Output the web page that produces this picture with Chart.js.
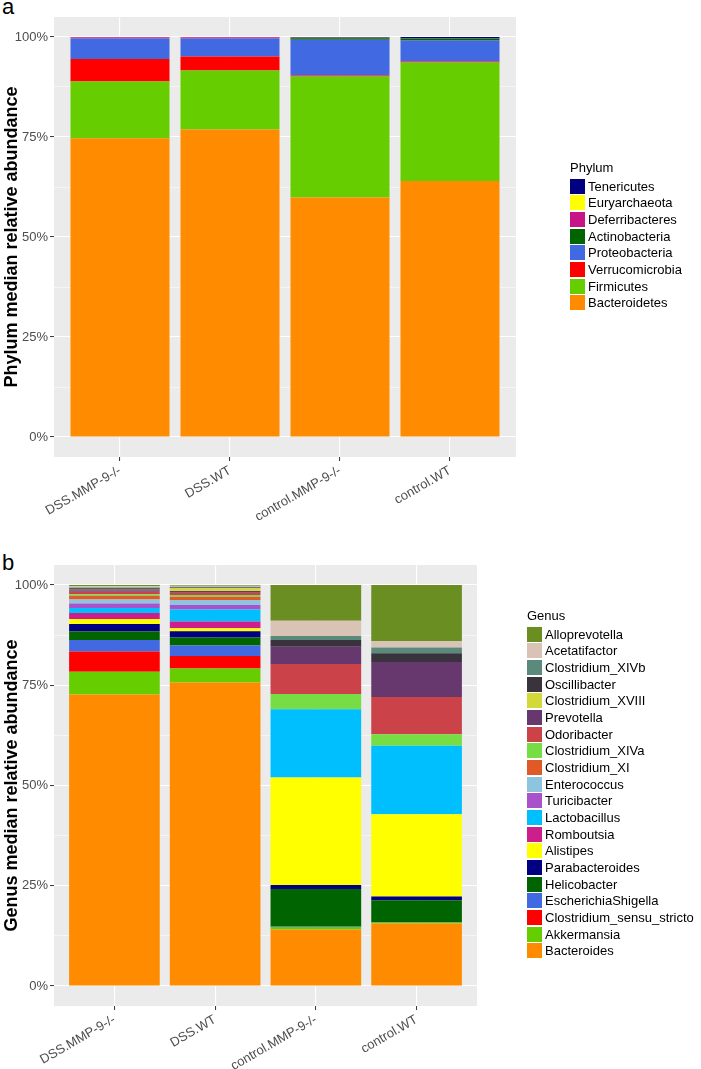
<!DOCTYPE html>
<html>
<head>
<meta charset="utf-8">
<script src="https://cdn.jsdelivr.net/npm/chart.js@4.4.1/dist/chart.umd.min.js"></script>
<style>
  body { margin: 0; background: #fff; font-family: "Liberation Sans", Arial, sans-serif; }
  #page { position: relative; width: 701px; height: 1069px; overflow: hidden; }
  canvas { position: absolute; left: 0; }
  .tag { position: absolute; left: 2px; font-size: 22px; line-height: 22px; color: #000; }
  .legend { position: absolute; font-size: 13px; color: #000; }
  .legend .ttl { height: 16px; line-height: 16px; margin-bottom: 2px; }
  .legend .row { height: 16.67px; display: flex; align-items: center; white-space: nowrap; }
  .legend .box { width: 15px; height: 15px; margin-right: 3px; flex: none; }
</style>
</head>
<body>
<div id="page">
  <div class="tag" style="top:-4px">a</div>
  <canvas id="phylumChart" width="701" height="540" style="top:0"></canvas>
  <div class="legend" id="phylumLegend" style="left:570px; top:160px"></div>

  <div class="tag" style="top:552px">b</div>
  <canvas id="genusChart" width="701" height="529" style="top:540px"></canvas>
  <div class="legend" id="genusLegend" style="left:527px; top:608px"></div>
</div>

<script>
// groups on the x axis
const groups = ["DSS.MMP-9-/-", "DSS.WT", "control.MMP-9-/-", "control.WT"];

// y axis ticks
const yGrid = [0, 12.5, 25, 37.5, 50, 62.5, 75, 87.5, 100];
const yTicks = [0, 25, 50, 75, 100];
const yTickLabels = ["0%", "25%", "50%", "75%", "100%"];

// ---- panel a : phylum (bottom of stack first) ----
const phyla = ["Bacteroidetes", "Firmicutes", "Verrucomicrobia", "Proteobacteria",
  "Actinobacteria", "Deferribacteres", "Euryarchaeota", "Tenericutes"];
const phylumColors = ["#FF8C00", "#66CD00", "#FF0000", "#4169E1",
  "#006400", "#C71585", "#FFFF00", "#000080"];
const phylumDssMmp9 = [74.7, 14.2, 5.6, 5.1, 0.05, 0.3, 0.02, 0.03];
const phylumDssWt = [76.9, 14.7, 3.5, 4.5, 0.05, 0.3, 0.02, 0.03];
const phylumCtrlMmp9 = [59.9, 30.2, 0.3, 8.9, 0.4, 0.05, 0.05, 0.2];
const phylumCtrlWt = [64.0, 29.6, 0.3, 5.2, 0.5, 0.1, 0.0, 0.3];

// ---- panel b : genus (bottom of stack first) ----
const genera = ["Bacteroides", "Akkermansia", "Clostridium_sensu_stricto", "EscherichiaShigella",
  "Helicobacter", "Parabacteroides", "Alistipes", "Romboutsia", "Lactobacillus", "Turicibacter",
  "Enterococcus", "Clostridium_XI", "Clostridium_XIVa", "Odoribacter", "Prevotella",
  "Clostridium_XVIII", "Oscillibacter", "Clostridium_XIVb", "Acetatifactor", "Alloprevotella"];
const genusColors = ["#FF8C00", "#66CD00", "#FF0000", "#4169E1",
  "#006400", "#000080", "#FFFF00", "#CD1F8B", "#00BFFF", "#A852CB",
  "#8EC4DE", "#E05A28", "#77DD44", "#CC4249", "#66386E",
  "#D4D93A", "#38333D", "#5A8A7C", "#D8C3B5", "#6B8E23"];
const genusDssMmp9 = [72.7, 5.7, 5.0, 2.9, 2.1, 1.9, 1.2, 1.5, 1.3, 1.1,
  1.0, 0.9, 0.4, 0.6, 0.4, 0.1, 0.4, 0.2, 0.3, 0.3];
const genusDssWt = [75.7, 3.5, 3.1, 2.6, 2.0, 1.6, 0.7, 1.7, 3.0, 1.1,
  1.3, 0.8, 0.4, 0.6, 0.4, 0.7, 0.2, 0.2, 0.2, 0.2];
const genusCtrlMmp9 = [14.1, 0.6, 0.0, 0.1, 9.4, 1.0, 26.8, 0.0, 17.0, 0.0,
  0.0, 0.0, 3.8, 7.5, 4.3, 0.0, 1.7, 1.0, 3.8, 8.9];
const genusCtrlWt = [15.6, 0.2, 0.0, 0.0, 5.6, 0.9, 20.5, 0.0, 17.1, 0.0,
  0.0, 0.0, 2.9, 9.3, 8.7, 0.0, 2.2, 1.4, 1.6, 14.0];


const FONT = "'Liberation Sans', Arial, sans-serif";

// grey ggplot panel behind the bars
const panelBg = {
  id: "panelBg",
  beforeDraw(chart) {
    const a = chart.chartArea;
    const ctx = chart.ctx;
    ctx.save();
    ctx.fillStyle = "#EBEBEB";
    ctx.fillRect(a.left, a.top, a.right - a.left, a.bottom - a.top);
    ctx.restore();
  }
};

function isMajor(v) {
  return yTicks.indexOf(v) !== -1;
}

function buildLegend(el, title, names, colors) {
  let html = '<div class="ttl">' + title + '</div>';
  for (let i = names.length - 1; i >= 0; i--) {
    html += '<div class="row"><span class="box" style="background:' + colors[i] + '"></span>' + names[i] + '</div>';
  }
  el.innerHTML = html;
}

function makeChart(canvasId, yTitle, names, colors, columns, pad, xHeight) {
  const datasets = names.map((name, k) => ({
    label: name,
    data: columns.map((col, i) => ({ x: i, y: col[k] })),
    backgroundColor: colors[k],
    borderWidth: 0,
    categoryPercentage: 0.9,
    barPercentage: 1.0
  }));

  return new Chart(document.getElementById(canvasId).getContext("2d"), {
    type: "bar",
    data: { datasets: datasets },
    options: {
      responsive: false,
      animation: false,
      devicePixelRatio: 1,
      layout: { padding: pad },
      plugins: {
        legend: { display: false },
        tooltip: { enabled: false }
      },
      scales: {
        x: {
          type: "linear",
          stacked: true,
          bounds: "data",
          min: -0.6,
          max: 3.6,
          offset: false,
          afterBuildTicks: s => { s.ticks = groups.map((g, i) => ({ value: i })); },
          afterFit: s => { s.height = xHeight; },
          ticks: {
            autoSkip: false,
            minRotation: 30,
            maxRotation: 30,
            padding: 2,
            color: "#4D4D4D",
            font: { family: FONT, size: 13 },
            callback: v => groups[v]
          },
          grid: {
            offset: false,
            color: "#FFFFFF",
            lineWidth: 1.1,
            drawTicks: true,
            tickLength: 4,
            tickWidth: 1,
            tickColor: "#333333"
          },
          border: { display: false }
        },
        y: {
          stacked: true,
          bounds: "data",
          min: -5,
          max: 105,
          afterBuildTicks: s => { s.ticks = yGrid.map(v => ({ value: v })); },
          afterFit: s => { s.width = 54; },
          ticks: {
            padding: 2,
            color: "#4D4D4D",
            font: { family: FONT, size: 13 },
            callback: v => isMajor(v) ? yTickLabels[yTicks.indexOf(v)] : ""
          },
          grid: {
            color: "#FFFFFF",
            lineWidth: c => isMajor(c.tick.value) ? 1.1 : 0.5,
            drawTicks: true,
            tickLength: 4,
            tickWidth: 1,
            tickColor: c => isMajor(c.tick.value) ? "#333333" : "rgba(0,0,0,0)"
          },
          border: { display: false },
          title: {
            display: true,
            text: yTitle,
            color: "#000000",
            font: { family: FONT, size: 18, weight: "bold" },
            padding: { top: 1, bottom: 0 }
          }
        }
      }
    },
    plugins: [panelBg]
  });
}

makeChart("phylumChart", "Phylum median relative abundance", phyla, phylumColors,
  [phylumDssMmp9, phylumDssWt, phylumCtrlMmp9, phylumCtrlWt],
  { top: 17, right: 185, left: 0, bottom: 0 }, 83);

makeChart("genusChart", "Genus median relative abundance", genera, genusColors,
  [genusDssMmp9, genusDssWt, genusCtrlMmp9, genusCtrlWt],
  { top: 25, right: 224, left: 0, bottom: 0 }, 63);

buildLegend(document.getElementById("phylumLegend"), "Phylum", phyla, phylumColors);
buildLegend(document.getElementById("genusLegend"), "Genus", genera, genusColors);
</script>
</body>
</html>
